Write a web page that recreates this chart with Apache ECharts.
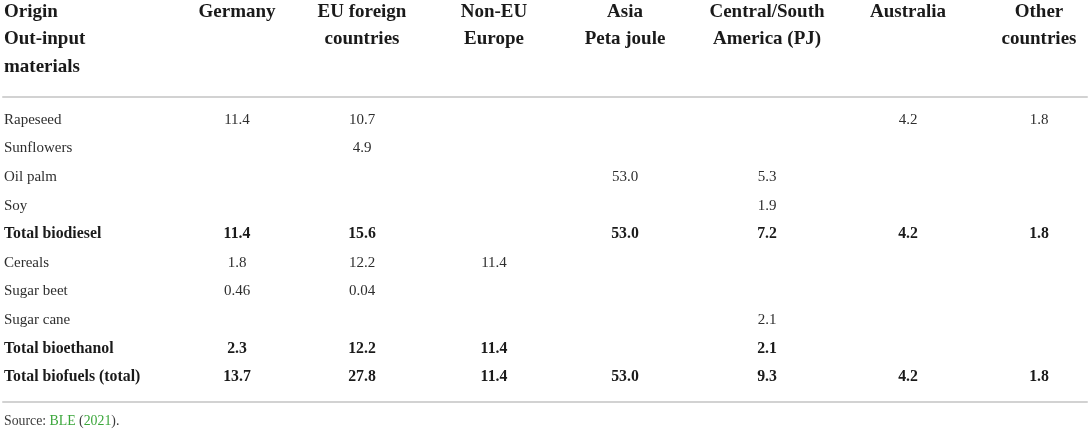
<!DOCTYPE html>
<html>
<head>
<meta charset="utf-8">
<script src="https://cdn.jsdelivr.net/npm/echarts@6/dist/echarts.min.js"></script>
<style>
  html, body { margin: 0; padding: 0; background: #fff; }
  #table { width: 1091px; height: 432px; }
</style>
</head>
<body>
<div id="table"></div>
<script>
// header text, one array per column (line breaks as in the source)
const headerLines = [
  ['Origin', 'Out-input', 'materials'],
  ['Germany'],
  ['EU foreign', 'countries'],
  ['Non-EU', 'Europe'],
  ['Asia', 'Peta joule'],
  ['Central/South', 'America (PJ)'],
  ['Australia'],
  ['Other', 'countries']
]
const materials = ['Rapeseed', 'Sunflowers', 'Oil palm', 'Soy', 'Total biodiesel',
  'Cereals', 'Sugar beet', 'Sugar cane', 'Total bioethanol', 'Total biofuels (total)']
const totalRows = ['Total biodiesel', 'Total bioethanol', 'Total biofuels (total)']

// values in PJ, null = empty cell
const germany = [11.4, null, null, null, 11.4, 1.8, 0.46, null, 2.3, 13.7]
const euForeign = [10.7, 4.9, null, null, 15.6, 12.2, 0.04, null, 12.2, 27.8]
const nonEU = [null, null, null, null, null, 11.4, null, null, 11.4, 11.4]
const asia = [null, null, 53.0, null, 53.0, null, null, null, null, 53.0]
const centralSouth = [null, null, 5.3, 1.9, 7.2, null, null, 2.1, 2.1, 9.3]
const australia = [4.2, null, null, null, 4.2, null, null, null, null, 4.2]
const otherCountries = [1.8, null, null, null, 1.8, null, null, null, null, 1.8]

// layout: label column left edge, then centre of each value column (x axis units)
const colX = [4, 237, 362, 494, 625, 767, 908, 1039]

const FONT = '"Liberation Serif", "DejaVu Serif", serif'
const ruleStyle = { color: '#d2d2d2', width: 2 }

const fmt = (v) => (v < 1 ? v.toFixed(2) : v.toFixed(1))

// build cells
const headCells = []
headerLines.forEach((lines, c) => {
  lines.forEach((t, l) => {
    headCells.push({ x: colX[c], row: l, text: t, align: c === 0 ? 'left' : 'center' })
  })
})
const bodyCells = []
const valueCols = [germany, euForeign, nonEU, asia, centralSouth, australia, otherCountries]
materials.forEach((m, r) => {
  const bold = totalRows.includes(m)
  bodyCells.push({ x: colX[0], row: r, text: m, align: 'left', bold })
  valueCols.forEach((arr, c) => {
    if (arr[r] !== null) {
      bodyCells.push({ x: colX[c + 1], row: r, text: fmt(arr[r]), align: 'center', bold })
    }
  })
})

const cellRenderer = (cells, isHead) => (params, api) => {
  const cell = cells[params.dataIndex]
  const p = api.coord([api.value(0), api.value(1)])
  const bold = isHead || cell.bold
  return {
    type: 'text',
    x: p[0],
    y: p[1],
    style: {
      text: cell.text,
      align: cell.align,
      verticalAlign: 'middle',
      fontFamily: FONT,
      fontSize: isHead ? 19 : (bold ? 15.8 : 15),
      fontWeight: bold ? 'bold' : 'normal',
      fill: bold ? '#1a1a1a' : '#2e2e2e'
    }
  }
}

const myChart = echarts.init(document.getElementById('table'))
const hiddenX = { type: 'value', min: 3, max: 1087, show: false }
const ruleX = (gridIndex, position) => ({
  type: 'value',
  gridIndex,
  position,
  min: 3,
  max: 1087,
  axisLine: { show: true, onZero: false, lineStyle: ruleStyle },
  axisTick: { show: false },
  axisLabel: { show: false },
  splitLine: { show: false }
})

const option = {
  animation: false,
  title: {
    left: 4,
    top: 414,
    padding: 0,
    text: '{a|Source: }{g|BLE}{a| (}{g|2021}{a|).}',
    textStyle: {
      fontWeight: 'normal',
      rich: {
        a: { fontFamily: FONT, fontSize: 13.8, fontWeight: 'normal', color: '#3a3a3a' },
        g: { fontFamily: FONT, fontSize: 13.8, fontWeight: 'normal', color: '#3aa63a' }
      }
    }
  },
  grid: [
    { left: 3, right: 4, top: 0, height: 96 },
    { left: 3, right: 4, top: 96.5, bottom: 30 }
  ],
  xAxis: [
    Object.assign({ gridIndex: 0 }, hiddenX),
    ruleX(1, 'top'),
    ruleX(1, 'bottom')
  ],
  yAxis: [
    { type: 'value', gridIndex: 0, inverse: true, min: -0.44, max: 3.07, show: false },
    { type: 'value', gridIndex: 1, inverse: true, min: -0.82, max: 9.875, show: false }
  ],
  series: [
    {
      type: 'custom',
      xAxisIndex: 0,
      yAxisIndex: 0,
      silent: true,
      data: headCells.map((d) => [d.x, d.row]),
      renderItem: cellRenderer(headCells, true)
    },
    {
      type: 'custom',
      xAxisIndex: 1,
      yAxisIndex: 1,
      silent: true,
      data: bodyCells.map((d) => [d.x, d.row]),
      renderItem: cellRenderer(bodyCells, false)
    }
  ]
}
option && myChart.setOption(option)
</script>
</body>
</html>
